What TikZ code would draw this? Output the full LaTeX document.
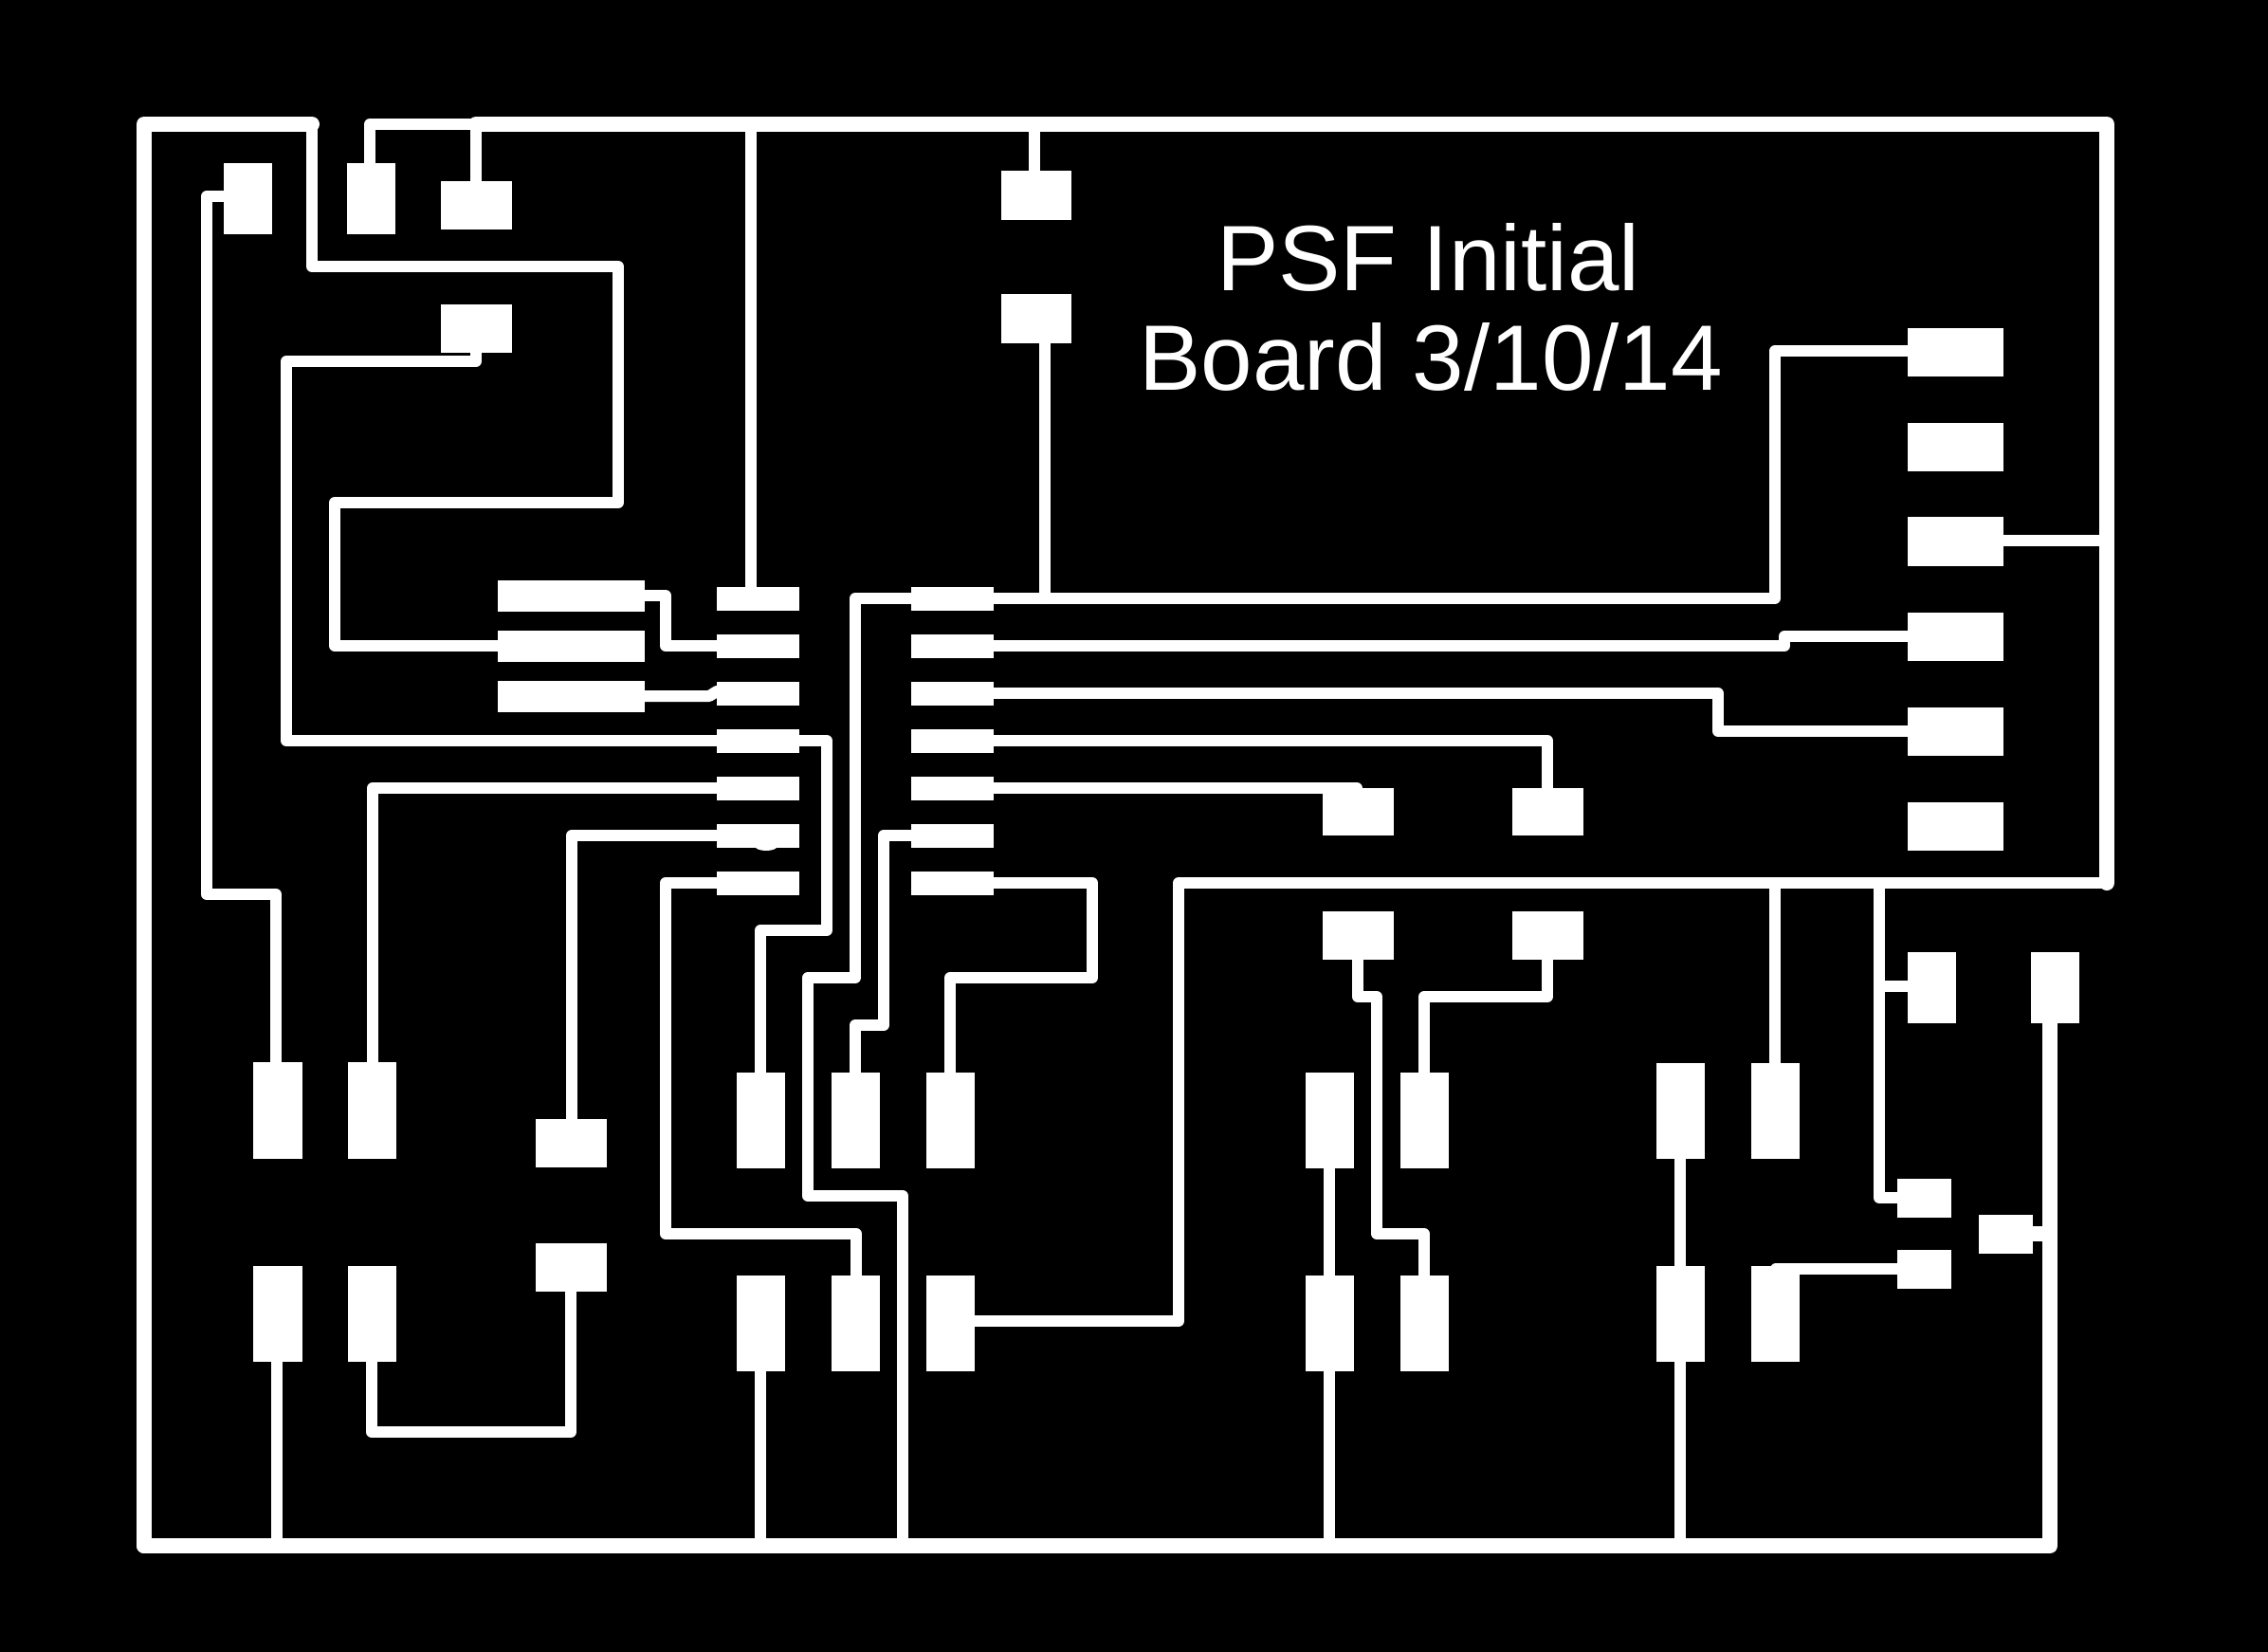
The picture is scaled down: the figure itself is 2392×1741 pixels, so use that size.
\documentclass[tikz,border=0pt]{standalone}
\usepackage{fontspec}
\setmainfont{Liberation Sans}
\tikzset{
  board/.style={x=1pt,y=-1pt},
  trace/.style={draw=white,line width=12pt,line join=round,line cap=round},
  heavy/.style={draw=white,line width=16pt,line join=round,line cap=round},
  padshape/.style={fill=white},
  legend/.style={text=white,inner sep=0pt,anchor=base west,font=\fontsize{98}{105}\selectfont}
}
\newcommand\padrect[4]{\fill[padshape] (#1,#2) rectangle (#3,#4);}
\begin{document}
\begin{tikzpicture}[board]
\useasboundingbox (0,0) rectangle (2392,1741);
\fill[black] (-6,-6) rectangle (2398,1747);
% traces
\draw[heavy] (152,1630) -- (152,131) -- (329,131);
\draw[trace] (329,131) -- (329,281) -- (652,281) -- (652,530) -- (353,530) -- (353,681) -- (525,681);
\draw[trace] (390,172) -- (390,131) -- (502,131) -- (502,191);
\draw[heavy] (502,131) -- (2222,131) -- (2222,931);
\draw[trace] (2222,931) -- (1243,931) -- (1243,1393) -- (1028,1393);
\draw[trace] (792,131) -- (792,619);
\draw[trace] (1091,131) -- (1091,180);
\draw[trace] (1102,362) -- (1102,631);
\draw[trace] (2113,570) -- (2222,570);
\draw[trace] (236,207) -- (218,207) -- (218,943) -- (291,943) -- (291,1120);
\draw[trace] (502,372) -- (502,381) -- (302,381) -- (302,781) -- (756,781);
\draw[trace] (680,628) -- (702,628) -- (702,681) -- (756,681);
\draw[trace] (680,734) -- (748,734) -- (756,729);
\draw[trace] (843,781) -- (872,781) -- (872,981) -- (802,981) -- (802,1131);
\draw[trace] (393,1120) -- (393,831) -- (756,831);
\draw[trace] (603,1179) -- (603,881) -- (756,881);
\draw[trace] (756,931) -- (702,931) -- (702,1301) -- (903,1301) -- (903,1345);
\draw[trace] (392,1436) -- (392,1510) -- (602,1510) -- (602,1362);
\draw[trace] (961,631) -- (902,631) -- (902,1031) -- (852,1031) -- (852,1261) -- (952,1261) -- (952,1630);
\draw[trace] (961,881) -- (932,881) -- (932,1081) -- (902,1081) -- (902,1131);
\draw[trace] (1048,931) -- (1152,931) -- (1152,1031) -- (1002,1031) -- (1002,1131);
\draw[trace] (1048,631) -- (1872,631) -- (1872,370) -- (2012,370);
\draw[trace] (1048,681) -- (1882,681) -- (1882,671) -- (2012,671);
\draw[trace] (1048,731) -- (1812,731) -- (1812,771) -- (2012,771);
\draw[trace] (1048,781) -- (1632,781) -- (1632,831);
\draw[trace] (1048,831) -- (1431,831) -- (1431,840);
\draw[trace] (1432,1012) -- (1432,1051) -- (1452,1051) -- (1452,1301) -- (1502,1301) -- (1502,1345);
\draw[trace] (1632,1012) -- (1632,1051) -- (1502,1051) -- (1502,1131);
\draw[trace] (1402,1232) -- (1402,1345);
\draw[trace] (1772,1222) -- (1772,1335);
\draw[trace] (1872,931) -- (1872,1121);
\draw[trace] (1982,931) -- (1982,1263) -- (2002,1263);
\draw[trace] (1982,1040) -- (2012,1040);
\draw[trace] (1873,1338) -- (2001,1338);
\draw[heavy] (2144,1301) -- (2162,1301);
\draw[heavy] (2162,1079) -- (2162,1630) -- (152,1630);
\draw[trace] (292,1436) -- (292,1630);
\draw[trace] (802,1446) -- (802,1630);
\draw[trace] (1402,1446) -- (1402,1630);
\draw[trace] (1772,1436) -- (1772,1630);
\fill[white] (808,892) ellipse (12 and 5);
% top-left pads
\padrect{236}{172}{287}{247}
\padrect{366}{172}{417}{247}
\padrect{465}{191}{540}{242}
\padrect{465}{321}{540}{372}
\padrect{1056}{180}{1130}{232}
\padrect{1056}{310}{1130}{362}
% right column
\padrect{2012}{346}{2113}{397}
\padrect{2012}{446}{2113}{497}
\padrect{2012}{545}{2113}{597}
\padrect{2012}{646}{2113}{697}
\padrect{2012}{746}{2113}{797}
\padrect{2012}{846}{2113}{897}
% long pads
\padrect{525}{612}{680}{645}
\padrect{525}{665}{680}{698}
\padrect{525}{718}{680}{751}
% IC
\foreach \yy in {619,669,719,769,819,869,919}{
  \padrect{756}{\yy}{843}{\yy+25}
  \padrect{961}{\yy}{1048}{\yy+25}
}
% mid pads
\padrect{1395}{831}{1470}{881}
\padrect{1595}{831}{1670}{881}
\padrect{1395}{961}{1470}{1012}
\padrect{1595}{961}{1670}{1012}
\padrect{2012}{1004}{2063}{1079}
\padrect{2142}{1004}{2193}{1079}
% upper pad row
\padrect{267}{1120}{319}{1222}
\padrect{367}{1120}{418}{1222}
\padrect{565}{1180}{640}{1231}
\padrect{777}{1131}{828}{1232}
\padrect{877}{1131}{928}{1232}
\padrect{977}{1131}{1028}{1232}
\padrect{1377}{1131}{1428}{1232}
\padrect{1477}{1131}{1528}{1232}
\padrect{1747}{1121}{1798}{1222}
\padrect{1847}{1121}{1898}{1222}
% lower pad row
\padrect{267}{1335}{319}{1436}
\padrect{367}{1335}{418}{1436}
\padrect{565}{1311}{640}{1362}
\padrect{777}{1345}{828}{1446}
\padrect{877}{1345}{928}{1446}
\padrect{977}{1345}{1028}{1446}
\padrect{1377}{1345}{1428}{1446}
\padrect{1477}{1345}{1528}{1446}
\padrect{1747}{1335}{1798}{1436}
\padrect{1847}{1335}{1898}{1436}
% small pads
\padrect{2001}{1243}{2058}{1284}
\padrect{2001}{1318}{2058}{1359}
\padrect{2087}{1281}{2144}{1322}
% legend
\node[legend] (lineone) at (1283,306) {PSF Initial};
\node[legend] (linetwo) at (1201,411) {Board 3/10/14};
\end{tikzpicture}
\end{document}
